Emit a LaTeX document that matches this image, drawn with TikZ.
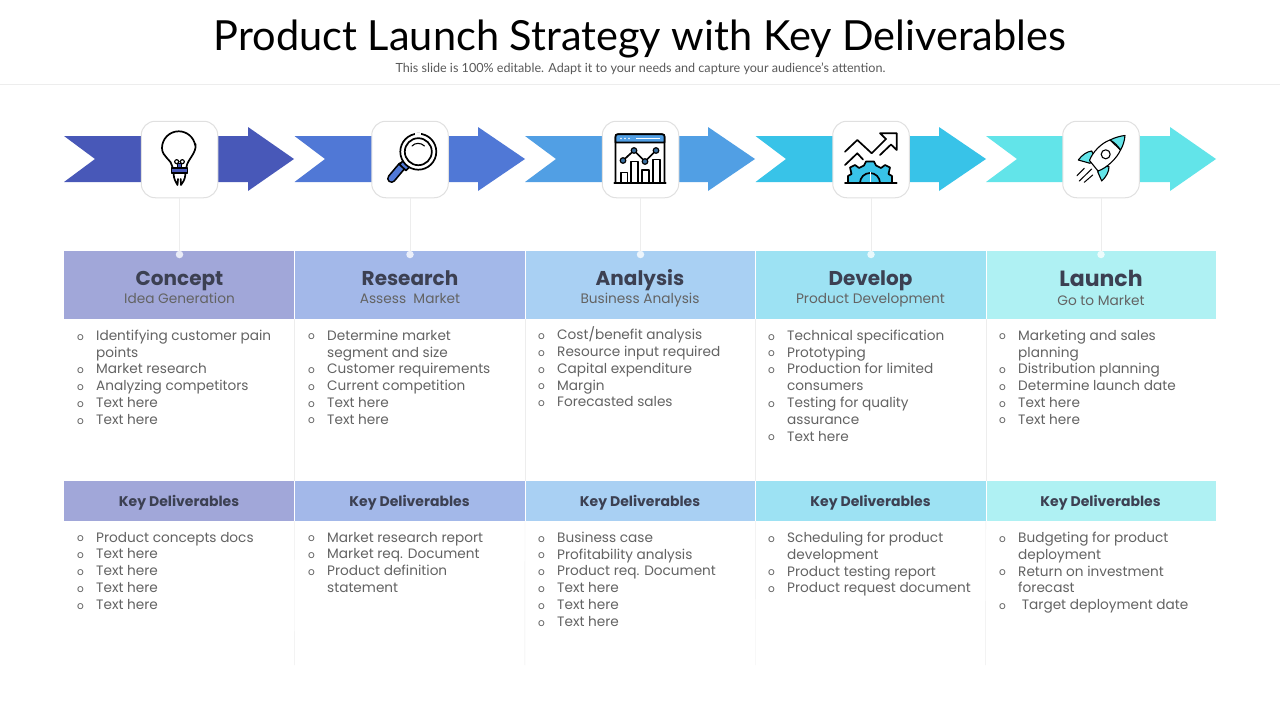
\documentclass[tikz,border=0pt]{standalone}
\usepackage{fontspec}
\usepackage{xcolor}
\setmainfont{Lato}
\newfontfamily\gothic{Poppins}
\usepackage{tikz}

\definecolor{arrowA}{HTML}{4858B8}
\definecolor{arrowB}{HTML}{5078D6}
\definecolor{arrowC}{HTML}{519FE4}
\definecolor{arrowD}{HTML}{38C3E8}
\definecolor{arrowE}{HTML}{62E4E9}
\definecolor{bandA}{HTML}{A1A7D9}
\definecolor{bandB}{HTML}{A3B8E9}
\definecolor{bandC}{HTML}{A9D0F3}
\definecolor{bandD}{HTML}{9DE2F3}
\definecolor{bandE}{HTML}{AFF1F3}
\definecolor{inkhead}{HTML}{3C4052}
\definecolor{inktext}{HTML}{636363}
\definecolor{hairline}{HTML}{EDEDED}

\newcommand{\bul}{\makebox[19pt][l]{\raisebox{0.3pt}{\fontsize{10.5}{10}\selectfont o}}}
\newcommand{\nobul}{\hspace*{19pt}}

\tikzset{
  iconcard/.style={draw=black!12,line width=1pt,fill=white,rounded corners=14pt,minimum width=76.5pt,minimum height=76.5pt,inner sep=0pt},
  band/.style={minimum width=230.4pt,inner sep=0pt},
  headtitle/.style={anchor=base,font=\gothic\bfseries\fontsize{20}{24}\selectfont,text=inkhead,inner sep=0pt},
  headsub/.style={anchor=base,font=\gothic\fontsize{13.7}{16}\selectfont,text=inktext,inner sep=0pt},
  keytitle/.style={anchor=base,font=\gothic\bfseries\fontsize{14}{16}\selectfont,text=inkhead,inner sep=0pt},
  itemlist/.style={anchor=north west,align=left,inner sep=0pt,font=\gothic\fontsize{13.65}{16.8}\selectfont,text=inktext},
  dotnode/.style={circle,fill=#1,inner sep=0pt,minimum size=7.5pt},
  icon/.style={line width=1.7pt,line join=round,line cap=round,draw=black},
}

\begin{document}
\begin{tikzpicture}[x=1pt,y=-1pt]
  \useasboundingbox (0,0) rectangle (1280,720);
  \fill[white] (0,0) rectangle (1280,720);

  % title block
  \node[anchor=base,inner sep=0pt,font=\fontsize{41.5}{44}\selectfont,text=black] (slidetitle) at (640,50) {Product Launch Strategy with Key Deliverables};
  \node[anchor=base,inner sep=0pt,font=\fontsize{12.6}{14}\selectfont,text=black!65] (slidesub) at (640.5,72) {This slide is 100\% editable. Adapt it to your needs and capture your audience's attention.};
  \coordinate (ruleleft) at (0,84.5);
  \coordinate (ruleright) at (1280,84.5);
  \draw[hairline] (ruleleft) -- (ruleright);

  % the five chevrons
  \fill[arrowA] (64,136) -- (248,136) -- (248,127) -- (294,159) -- (248,191) -- (248,182) -- (64,182) -- (95,159) -- cycle;
  \fill[arrowB] (294.5,136) -- (478,136) -- (478,127) -- (525,159) -- (478,191) -- (478,182) -- (294.5,182) -- (325,159) -- cycle;
  \fill[arrowC] (525,136) -- (708,136) -- (708,127) -- (755,159) -- (708,191) -- (708,182) -- (525,182) -- (556,159) -- cycle;
  \fill[arrowD] (755.5,136) -- (939,136) -- (939,127) -- (986,159) -- (939,191) -- (939,182) -- (755.5,182) -- (786,159) -- cycle;
  \fill[arrowE] (986,136) -- (1170,136) -- (1170,127) -- (1216,159) -- (1170,191) -- (1170,182) -- (986,182) -- (1017,159) -- cycle;

  % header bands
  \node[band,fill=bandA,minimum height=68pt] (headA) at (179.2,285) {};
  \node[band,fill=bandB,minimum height=68pt] (headB) at (409.6,285) {};
  \node[band,fill=bandC,minimum height=68pt] (headC) at (640,285) {};
  \node[band,fill=bandD,minimum height=68pt] (headD) at (870.4,285) {};
  \node[band,fill=bandE,minimum height=68pt] (headE) at (1100.8,285) {};

  \node[band,fill=bandA,minimum height=40pt] (keyA) at (179.2,501) {};
  \node[band,fill=bandB,minimum height=40pt] (keyB) at (409.6,501) {};
  \node[band,fill=bandC,minimum height=40pt] (keyC) at (640,501) {};
  \node[band,fill=bandD,minimum height=40pt] (keyD) at (870.4,501) {};
  \node[band,fill=bandE,minimum height=40pt] (keyE) at (1100.8,501) {};

  % column rules
  \draw[white] (headA.north east) -- (headA.south east);
  \draw[white] (headB.north east) -- (headB.south east);
  \draw[white] (headC.north east) -- (headC.south east);
  \draw[white] (headD.north east) -- (headD.south east);
  \draw[white] (keyA.north east) -- (keyA.south east);
  \draw[white] (keyB.north east) -- (keyB.south east);
  \draw[white] (keyC.north east) -- (keyC.south east);
  \draw[white] (keyD.north east) -- (keyD.south east);
  \draw[hairline] (headA.south east) -- (keyA.north east);
  \draw[hairline] (headB.south east) -- (keyB.north east);
  \draw[hairline] (headC.south east) -- (keyC.north east);
  \draw[hairline] (headD.south east) -- (keyD.north east);
  \coordinate (endA) at (294.4,665);
  \coordinate (endB) at (524.8,665);
  \coordinate (endC) at (755.2,665);
  \coordinate (endD) at (985.6,665);
  \draw[hairline] (keyA.south east) -- (endA);
  \draw[hairline] (keyB.south east) -- (endB);
  \draw[hairline] (keyC.south east) -- (endC);
  \draw[hairline] (keyD.south east) -- (endD);

  % cards and their stems
  \node[iconcard] (cardA) at (179.5,159.5) {};
  \node[iconcard] (cardB) at (410,159.5) {};
  \node[iconcard] (cardC) at (640.5,159.5) {};
  \node[iconcard] (cardD) at (871,159.5) {};
  \node[iconcard] (cardE) at (1101,159.5) {};
  \node[dotnode=white!78!bandA] (dotA) at (179.5,254.5) {};
  \node[dotnode=white!78!bandB] (dotB) at (410,254.5) {};
  \node[dotnode=white!78!bandC] (dotC) at (640.5,254.5) {};
  \node[dotnode=white!78!bandD] (dotD) at (871,254.5) {};
  \node[dotnode=white!78!bandE] (dotE) at (1101,254.5) {};
  \draw[hairline] (cardA.south) -- (dotA);
  \draw[hairline] (cardB.south) -- (dotB);
  \draw[hairline] (cardC.south) -- (dotC);
  \draw[hairline] (cardD.south) -- (dotD);
  \draw[hairline] (cardE.south) -- (dotE);

  % bulb
  \draw[icon] (172.5,167) .. controls (172,160) and (162,157) .. (162,148) arc (180:350:16.7);
  \draw[icon] (195.5,144) .. controls (197,153) and (187,160) .. (186.5,167);
  \draw[icon,line width=1.2pt] (176.7,161.7) circle (2) (182.3,161.7) circle (2);
  \draw[icon,line width=1.2pt,fill=arrowA] (177.5,163.5) -- (177.5,168) -- (181.5,168) -- (181.5,163.5) -- cycle;
  \draw[icon,line width=1.2pt,fill=arrowA] (171.5,168) rectangle (187.5,173);
  \draw[icon] (173.5,173.5) .. controls (174,180) and (176,182) .. (177.5,185) -- (178,179);
  \draw[icon] (185.5,173.5) .. controls (185,180) and (183,182) .. (181,185) -- (180.7,179);

  % magnifier
  \draw[black,line width=9pt,line cap=round] (402,166) -- (391.5,178.5);
  \draw[arrowB,line width=5.6pt,line cap=round] (402,166) -- (391.5,178.5);
  \draw[icon,fill=arrowB] (399.5,164.5) -- (404,160) -- (410.5,166) -- (406,170.5) -- cycle;
  \draw[icon,fill=white] (418.3,151.7) circle (18);
  \draw[white,line width=2.4pt] (415,133.7) -- (421,133.7);
  \draw[icon] (418.3,151.7) circle (13.5);
  \draw[icon,line width=1.1pt] (412,146) .. controls (415,142.5) and (421,142.5) .. (424.5,146);

  % chart window
  \draw[icon,fill=white] (615.5,183) -- (615.5,137) .. controls (615.5,135) and (616,134.3) .. (618,134.3) -- (662,134.3) .. controls (664,134.3) and (664.5,135) .. (664.5,137) -- (664.5,183);
  \draw[icon,fill=arrowC] (615.5,142.5) -- (615.5,137) .. controls (615.5,135) and (616,134.3) .. (618,134.3) -- (662,134.3) .. controls (664,134.3) and (664.5,135) .. (664.5,137) -- (664.5,142.5) -- cycle;
  \draw[white,line width=1.2pt] (636,138.5) -- (660,138.5);
  \fill[white] (621,138.5) circle (0.9) (625,138.5) circle (0.9) (629,138.5) circle (0.9);
  \draw[icon] (621,183) -- (621,172.5) -- (627.5,172.5) -- (627.5,183);
  \draw[icon] (631,183) -- (631,161.5) -- (638,161.5) -- (638,183);
  \draw[icon] (642,183) -- (642,170) -- (649,170) -- (649,183);
  \draw[icon] (653,183) -- (653,159.5) -- (660,159.5) -- (660,183);
  \draw[icon] (623.5,160) -- (634,150.5) -- (645,161.5) -- (656,150.5);
  \draw[icon,fill=arrowC!70!black,line width=1.2pt] (623,160.5) circle (2.8) (634,150.5) circle (2.8) (645,161.5) circle (2.8) (656,150.5) circle (2.8);
  \draw[icon] (614.3,183.3) -- (665.7,183.3);

  % gear and rising arrow
  \draw[icon] (845,151.7) -- (857.3,140) -- (871.7,153.3) -- (886,139) -- (880,133.3) -- (896.7,133.3) -- (896.7,150) -- (891,144.5) -- (880,155);
  \draw[icon] (845,165) -- (857.3,153.3) -- (863,159.5);
  \draw[icon,fill=arrowD] (848,183) -- (848,176) -- (851.5,174) -- (850,167.5) -- (855,165) -- (859,168) -- (864,165.5) -- (866,161.5) -- (874,161.5) -- (876,165.5) -- (881,168) -- (885,165) -- (890,167.5) -- (888.5,174) -- (892,176) -- (892,183);
  \draw[icon] (860,183) arc (180:360:10);
  \draw[white,line width=1pt] (870,172) -- (870,183);
  \draw[icon] (845,183.3) -- (896.7,183.3);

  % rocket
  \draw[icon,line width=1.1pt,fill=arrowE] (1078.3,160) .. controls (1082,155) and (1087,151.5) .. (1091.7,151) -- (1094,156) -- (1090,163.3) -- cycle;
  \draw[icon,line width=1.1pt,fill=arrowE] (1097.7,171.7) -- (1101.7,181) .. controls (1106,177) and (1109,172) .. (1109,166.7) -- (1103,166) -- cycle;
  \draw[icon,line width=1.1pt,fill=white] (1110,140) .. controls (1101,143) and (1092,153) .. (1089.5,160.5) -- (1098,171) .. controls (1107,168) and (1117,158) .. (1120.5,150) -- cycle;
  \draw[icon,line width=1.1pt,fill=arrowE] (1110,140) .. controls (1115,137.5) and (1120,136) .. (1125,135.5) .. controls (1124.5,141) and (1123,146) .. (1120.5,150) .. controls (1118,146) and (1114,142) .. (1110,140) -- cycle;
  \draw[icon,line width=1.1pt,fill=white] (1105.7,154.3) circle (4.5);
  \draw[icon,line width=1pt] (1077,175.7) -- (1084.3,168.3) (1079.3,181) -- (1091.7,169) (1084.3,182.3) -- (1092.7,175);

  % band texts
  \node[headtitle] (titleA) at (179.5,285) {Concept};
  \node[headtitle] (titleB) at (410,285) {Research};
  \node[headtitle] (titleC) at (640,285) {Analysis};
  \node[headtitle] (titleD) at (870.5,285) {Develop};
  \node[headtitle,font=\gothic\bfseries\fontsize{22}{26}\selectfont] (titleE) at (1101,286) {Launch};
  \node[headsub] (subA) at (179.5,303) {Idea Generation};
  \node[headsub] (subB) at (410,303) {Assess\ \ Market};
  \node[headsub] (subC) at (640,303) {Business Analysis};
  \node[headsub] (subD) at (870.5,303) {Product Development};
  \node[headsub] (subE) at (1101,305) {Go to Market};

  \node[keytitle] (keytextA) at (179,506) {Key Deliverables};
  \node[keytitle] (keytextB) at (409.5,506) {Key Deliverables};
  \node[keytitle] (keytextC) at (640,506) {Key Deliverables};
  \node[keytitle] (keytextD) at (870.5,506) {Key Deliverables};
  \node[keytitle] (keytextE) at (1100.5,506) {Key Deliverables};

  % upper lists
  \node[itemlist] (listA) at (77,329.7) {\bul Identifying customer pain\\\nobul points\\\bul Market research\\\bul Analyzing competitors\\\bul Text here\\\bul Text here};
  \node[itemlist] (listB) at (308,329.7) {\bul Determine market\\\nobul segment and size\\\bul Customer requirements\\\bul Current competition\\\bul Text here\\\bul Text here};
  \node[itemlist] (listC) at (538,326.7) {\bul Cost/benefit analysis\\\bul Resource input required\\\bul Capital expenditure\\\bul Margin\\\bul Forecasted sales};
  \node[itemlist] (listD) at (768,329.7) {\bul Technical specification\\\bul Prototyping\\\bul Production for limited\\\nobul consumers\\\bul Testing for quality\\\nobul assurance\\\bul Text here};
  \node[itemlist] (listE) at (999,329.7) {\bul Marketing and sales\\\nobul planning\\\bul Distribution planning\\\bul Determine launch date\\\bul Text here\\\bul Text here};

  % lower lists
  \node[itemlist] (delivA) at (77,531.8) {\bul Product concepts docs\\\bul Text here\\\bul Text here\\\bul Text here\\\bul Text here};
  \node[itemlist] (delivB) at (308,531.8) {\bul Market research report\\\bul Market req. Document\\\bul Product definition\\\nobul statement};
  \node[itemlist] (delivC) at (538,531.8) {\bul Business case\\\bul Profitability analysis\\\bul Product req. Document\\\bul Text here\\\bul Text here\\\bul Text here};
  \node[itemlist] (delivD) at (768,531.8) {\bul Scheduling for product\\\nobul development\\\bul Product testing report\\\bul Product request document};
  \node[itemlist] (delivE) at (999,531.8) {\bul Budgeting for product\\\nobul deployment\\\bul Return on investment\\\nobul forecast\\\bul \ Target deployment date};
\end{tikzpicture}
\end{document}
